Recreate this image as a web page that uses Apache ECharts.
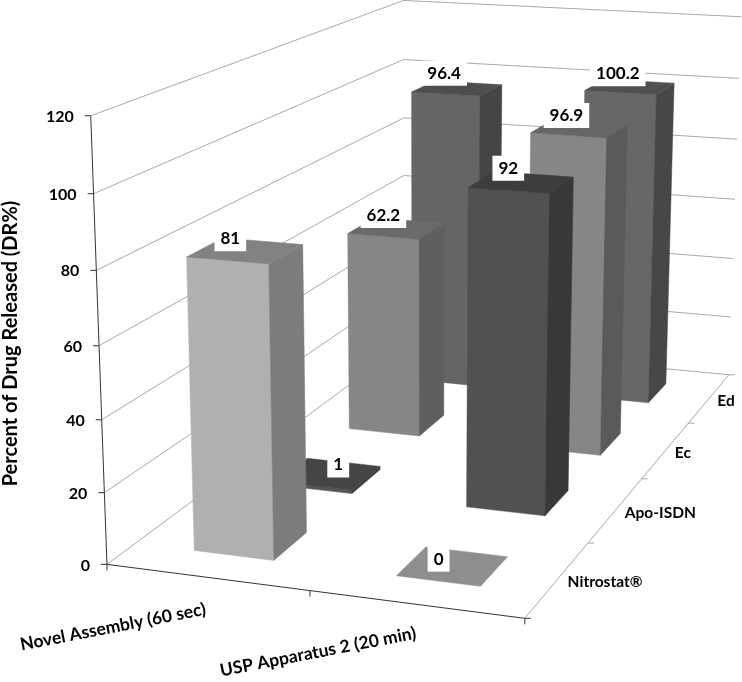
<!DOCTYPE html>
<html>
<head>
<meta charset="utf-8">
<style>html,body{margin:0;padding:0;background:#fff}#c{width:742px;height:682px}</style>
<script src="https://cdn.jsdelivr.net/npm/echarts@6/dist/echarts.min.js"></script>
</head>
<body>
<div id="c"></div>
<script>
// ---- data ----
const categories = ['Novel Assembly (60 sec)', 'USP Apparatus 2 (20 min)'];
const depths = ['Nitrostat®', 'Apo-ISDN', 'Ec', 'Ed'];
const novelValues = [81, 1, 62.2, 96.4];
const uspValues = [0, 92, 96.9, 100.2];
const yTicks = [0, 20, 40, 60, 80, 100, 120];
const yTitle = 'Percent of Drug Released (DR%)';

// ---- shades per bar: [front, side, top] ----
const novelShades = [['#b0b0b0', '#7c7c7c', '#828282'], ['#555555', '#3c3c3c', '#454545'], ['#868686', '#5f5f5f', '#6a6a6a'], ['#656565', '#454545', '#4e4e4e']];
const uspShades = [['#8e8e8e', '#6a6a6a', '#8e8e8e'], ['#515151', '#383838', '#3d3d3d'], ['#868686', '#5a5a5a', '#676767'], ['#676767', '#474747', '#505050']];

// ---- camera: where the corners of the chart box land on the page ----
const boxCorners = [
  [0, 0, 0, 107, 563.5], [0, 0, 1, 90.5, 116], [1, 0, 0, 525, 619], [1, 1, 0, 729, 374],
  [0, 1, 0, 404, 345], [0, 1, 1, 404, 0], [1, 1, 1, 741, 17]
];
function solveCamera(pts) {
  const rows = [], rhs = [];
  pts.forEach(([x, z, v, u, w]) => {
    rows.push([x, z, v, 1, 0, 0, 0, 0, -u * x, -u * z, -u * v]); rhs.push(u);
    rows.push([0, 0, 0, 0, x, z, v, 1, -w * x, -w * z, -w * v]); rhs.push(w);
  });
  const n = 11, M = [];
  for (let i = 0; i < n; i++) {
    const r = [];
    for (let j = 0; j < n; j++) { let s = 0; rows.forEach(R => s += R[i] * R[j]); r.push(s); }
    let s = 0; rows.forEach((R, k) => s += R[i] * rhs[k]); r.push(s);
    M.push(r);
  }
  for (let c = 0; c < n; c++) {
    let p = c;
    for (let r = c + 1; r < n; r++) if (Math.abs(M[r][c]) > Math.abs(M[p][c])) p = r;
    [M[c], M[p]] = [M[p], M[c]];
    for (let r = 0; r < n; r++) if (r !== c) {
      const f = M[r][c] / M[c][c];
      for (let k = c; k <= n; k++) M[r][k] -= f * M[c][k];
    }
  }
  return M.map((r, i) => r[n] / r[i]);
}
const P = solveCamera(boxCorners);
function project(x, z, v) {
  const d = P[8] * x + P[9] * z + P[10] * v + 1;
  return [(P[0] * x + P[1] * z + P[2] * v + P[3]) / d, (P[4] * x + P[5] * z + P[6] * v + P[7]) / d];
}

const grid = { left: 107, top: 116, width: 418, height: 447, outerBoundsMode: 'none' };
// value -> height fraction, through the value axis
function vFrac(api, val) { return (grid.top + grid.height - api.coord([0, val])[1]) / grid.height; }
// category index -> centre fraction, through the category axis
function xFrac(api, i) { return (api.coord([i, 0])[0] - grid.left) / grid.width; }

const GRID = '#a9a9a9', DARK = '#333333';
const FONT = 'Lato, "Open Sans", sans-serif';
function line(a, b, color, w) {
  return { type: 'line', shape: { x1: a[0], y1: a[1], x2: b[0], y2: b[1] }, style: { stroke: color, lineWidth: w || 1 }, silent: true };
}
function poly(points, fill, z2) {
  return { type: 'polygon', shape: { points }, z2, style: { fill, stroke: fill, lineWidth: 0.5 }, silent: true };
}

function frameItem(params, api) {
  const val = api.value(1), f = vFrac(api, val);
  const a = project(0, 0, f), b = project(0, 1, f), c = project(1, 1, f);
  return { type: 'group', children: [
    line(a, b, GRID), line(b, c, GRID),
    line([a[0] - 6, a[1]], a, DARK),
    { type: 'text', x: a[0] - 17, y: a[1] + 1, silent: true,
      style: { text: String(val), font: 'bold 16px ' + FONT, fill: '#000', align: 'right', verticalAlign: 'middle' } }
  ] };
}
function edgeItem(params, api) {
  const A = project(0, 0, 0), B = project(1, 0, 0), C = project(1, 1, 0), T = project(0, 0, vFrac(api, yTicks[yTicks.length - 1]));
  const kids = [line(A, T, DARK), line(A, B, DARK), line(B, C, GRID)];
  for (let i = 0; i <= categories.length; i++) {
    const p = project(i / categories.length, 0, 0);
    kids.push(line(p, [p[0], p[1] + 6], DARK));
  }
  for (let k = 0; k <= depths.length; k++) {
    const p = project(1, k / depths.length, 0);
    kids.push(line(p, [p[0] + 6, p[1]], k === 0 ? DARK : GRID));
  }
  return { type: 'group', children: kids };
}
const categoryLabelPos = [[113, 627], [318, 652]];
function categoryLabelItem(params, api) {
  const i = api.value(0), p = categoryLabelPos[i];
  return { type: 'text', x: p[0], y: p[1], rotation: 11 * Math.PI / 180, originX: 0, originY: 0, silent: true,
    style: { text: categories[i], font: 'bold 17.5px ' + FONT, fill: '#000', align: 'center', verticalAlign: 'middle' } };
}
const depthLabelNudge = [10, 9, 9, 8];
function depthLabelItem(params, api) {
  const k = api.value(2), p = project(1, (k + 0.5) / depths.length, 0);
  return { type: 'text', x: p[0] + depthLabelNudge[k], y: p[1] + 3, silent: true,
    style: { text: depths[k], font: 'bold 15.5px ' + FONT, fill: '#000', align: 'left', verticalAlign: 'middle' } };
}

function barItem(params, api) {
  const i = api.value(0), val = api.value(1), k = api.value(2);
  const xc = xFrac(api, i), zc = (k + 0.5) / depths.length;
  const hw = 0.2 / categories.length, hd = 0.2 / depths.length;
  const x0 = xc - hw, x1 = xc + hw, z0 = zc - hd, z1 = zc + hd, f = vFrac(api, val);
  const s = (i === 0 ? novelShades : uspShades)[k];
  const order = (depths.length - k) * 10 + i;
  const kids = [];
  if (val > 0) {
    kids.push(poly([project(x0, z0, 0), project(x1, z0, 0), project(x1, z0, f), project(x0, z0, f)], s[0], order));
    kids.push(poly([project(x1, z0, 0), project(x1, z1, 0), project(x1, z1, f), project(x1, z0, f)], s[1], order));
  }
  kids.push(poly([project(x0, z0, f), project(x1, z0, f), project(x1, z1, f), project(x0, z1, f)], s[2], order));
  return { type: 'group', children: kids };
}
// label offsets from the centre of each bar's top, per depth
const novelLabelOffset = [[-15, -12], [9, -9], [-13, -13], [-13, -15]];
const uspLabelOffset = [[-14, -7], [-13, -14], [-13, -13], [-12, -13]];
function valueLabelItem(params, api) {
  const i = api.value(0), val = api.value(1), k = api.value(2);
  const p = project(xFrac(api, i), (k + 0.5) / depths.length, vFrac(api, val));
  const o = (i === 0 ? novelLabelOffset : uspLabelOffset)[k];
  return { type: 'text', x: p[0] + o[0], y: p[1] + o[1], silent: true,
    style: { text: String(val), font: 'bold 17px ' + FONT, fill: '#000', align: 'center', verticalAlign: 'middle',
      backgroundColor: '#fff', padding: [4, 6, 4, 6] } };
}

const barData = [];
depths.forEach((d, k) => {
  barData.push([0, novelValues[k], k], [1, uspValues[k], k]);
});

const chart = echarts.init(document.getElementById('c'));
chart.setOption({
  animation: false,
  backgroundColor: '#ffffff',
  grid,
  xAxis: { type: 'category', data: categories, show: false },
  yAxis: { type: 'value', min: 0, max: 120, interval: 20, splitLine: { show: false }, axisLine: { show: false },
    axisTick: { show: false }, axisLabel: { show: false },
    name: yTitle, nameLocation: 'middle', nameGap: 86, nameRotate: 90,
    nameTextStyle: { fontFamily: FONT, fontWeight: 'bold', fontSize: 20, color: '#000', padding: [0, 8, 0, 0] } },
  series: [
    { type: 'custom', name: 'frame', z: 1, clip: false, silent: true, renderItem: frameItem, data: yTicks.map(t => [0, t]), encode: { x: 0, y: 1 } },
    { type: 'custom', name: 'edges', z: 2, clip: false, silent: true, renderItem: edgeItem, data: [[0, 0]], encode: { x: 0, y: 1 } },
    { type: 'custom', name: 'bars', z: 3, clip: false, silent: true, renderItem: barItem, data: barData, encode: { x: 0, y: 1 } },
    { type: 'custom', name: 'values', z: 4, clip: false, silent: true, renderItem: valueLabelItem, data: barData, encode: { x: 0, y: 1 } },
    { type: 'custom', name: 'categoryLabels', z: 4, clip: false, silent: true, renderItem: categoryLabelItem, data: categories.map((c, i) => [i, 0]), encode: { x: 0, y: 1 } },
    { type: 'custom', name: 'depthLabels', z: 4, clip: false, silent: true, renderItem: depthLabelItem, data: depths.map((d, k) => [0, 0, k]), encode: { x: 0, y: 1 } }
  ]
});
</script>
</body>
</html>
